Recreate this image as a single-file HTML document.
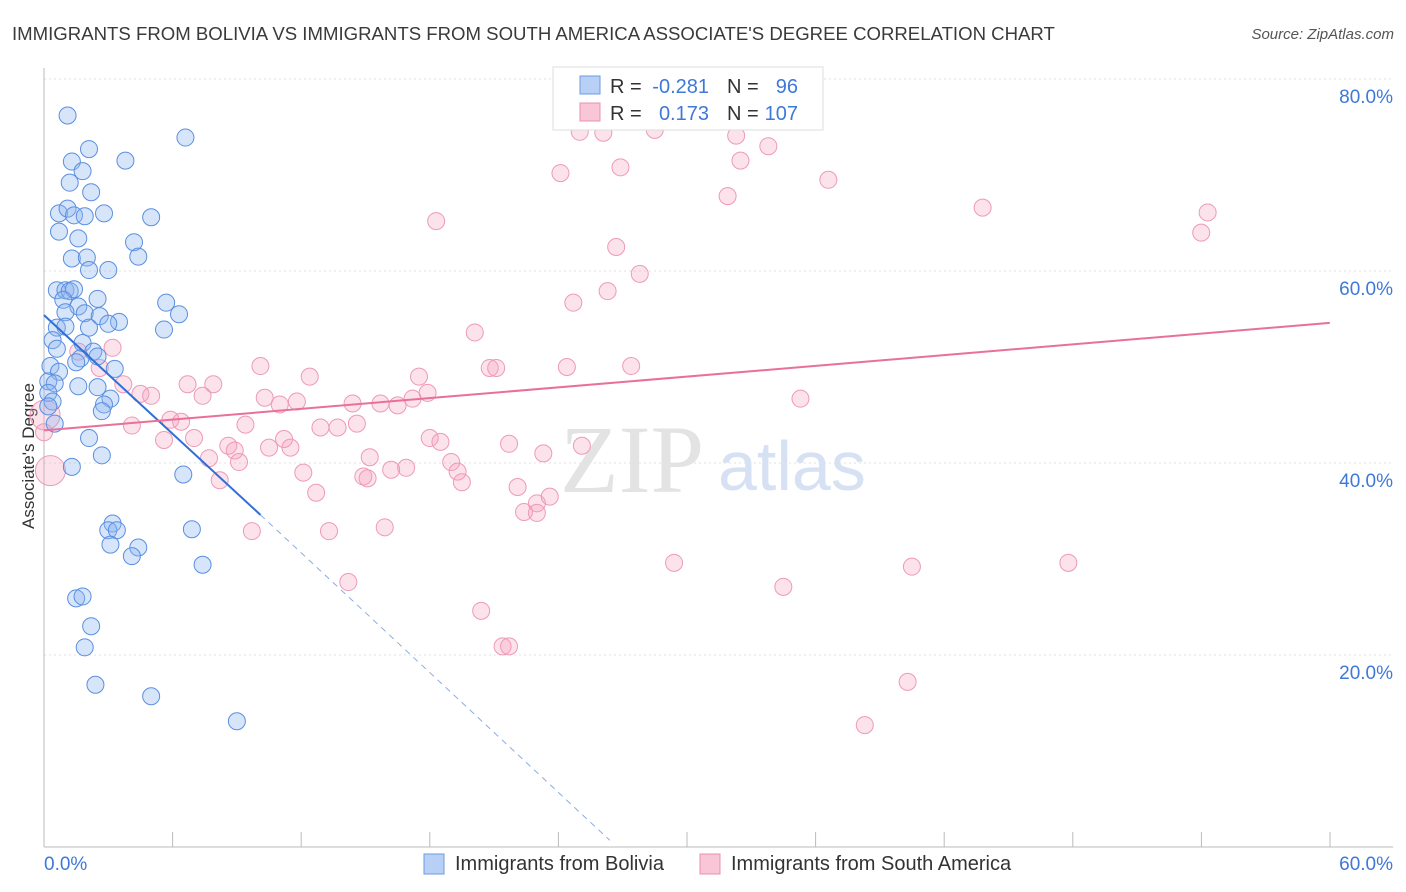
<!DOCTYPE html>
<html><head><meta charset="utf-8"><style>
body{margin:0;background:#fff;font-family:"Liberation Sans",sans-serif;}
#wrap{position:relative;width:1406px;height:892px;overflow:hidden}
</style></head><body>
<div id="wrap">
<svg id="svg" width="1406" height="892" font-family="Liberation Sans, sans-serif">
<text x="12" y="40" font-size="18.6" fill="#3a3a3a">IMMIGRANTS FROM BOLIVIA VS IMMIGRANTS FROM SOUTH AMERICA ASSOCIATE'S DEGREE CORRELATION CHART</text>
<text x="1394" y="39" font-size="15" fill="#555" font-style="italic" text-anchor="end">Source: ZipAtlas.com</text>
<text x="34" y="456" font-size="17" fill="#333" text-anchor="middle" transform="rotate(-90 34 456)">Associate's Degree</text>
<g id="grid"></g>
<text x="560" y="492" font-size="96" fill="#e3e3e3" font-family="Liberation Serif, serif">ZIP</text>
<text x="718" y="490" font-size="70" fill="#d6e2f3">atlas</text>
<g id="pts"></g>
<g id="lines"></g>
<g font-size="20">
<rect x="553" y="67" width="270" height="63" fill="#fff" stroke="#ddd"/>
<rect x="580" y="76" width="20" height="18" fill="#b8d0f5" stroke="#6a9be0"/>
<text x="610" y="93" fill="#333">R =</text>
<text x="709" y="93" fill="#3e78d8" text-anchor="end">-0.281</text>
<text x="727" y="93" fill="#333">N =</text>
<text x="798" y="93" fill="#3e78d8" text-anchor="end">96</text>
<rect x="580" y="103" width="20" height="18" fill="#f8c6d6" stroke="#e890ac"/>
<text x="610" y="120" fill="#333">R =</text>
<text x="709" y="120" fill="#3e78d8" text-anchor="end">0.173</text>
<text x="727" y="120" fill="#333">N =</text>
<text x="798" y="120" fill="#3e78d8" text-anchor="end">107</text>
</g>
<g>
<rect x="424" y="854" width="20" height="20" fill="#b8d0f5" stroke="#6a9be0"/>
<text x="455" y="870" font-size="20" fill="#333">Immigrants from Bolivia</text>
<rect x="700" y="854" width="20" height="20" fill="#f8c6d6" stroke="#e890ac"/>
<text x="731" y="870" font-size="20" fill="#333">Immigrants from South America</text>
</g>
</svg>
</div>
<script>
const yTicks=[20,40,60,80];
const xTickLabels=["0.0%","60.0%"];
const blueX=[1.1,6.6,2.1,3.8,1.3,1.8,1.2,2.2,0.7,1.1,1.4,1.9,2.8,5.0,0.7,1.6,4.2,4.4,1.3,2.0,2.1,3.0,0.6,1.0,1.2,1.4,2.5,5.7,0.9,1.6,1.0,1.9,2.6,6.3,3.5,3.0,0.6,1.0,2.1,5.6,0.4,1.8,0.6,2.3,1.7,2.5,0.3,1.5,3.3,0.7,0.2,0.5,1.6,2.5,0.2,3.1,0.4,2.8,2.7,0.2,0.5,2.1,2.7,1.3,6.5,3.2,3.0,3.4,6.9,4.4,3.1,4.1,7.4,1.5,1.8,2.2,1.9,2.4,5.0,9.0];
const blueY=[76.2,73.9,72.7,71.5,71.4,70.4,69.2,68.2,66.0,66.5,65.8,65.7,66.0,65.6,64.1,63.4,63.0,61.5,61.3,61.4,60.1,60.1,58.0,58.0,57.9,58.1,57.1,56.7,57.0,56.3,55.7,55.6,55.3,55.5,54.7,54.5,54.1,54.2,54.1,53.9,52.8,52.5,51.9,51.6,50.9,51.1,50.1,50.5,49.8,49.5,48.5,48.3,48.0,47.9,47.3,46.7,46.4,46.1,45.4,45.9,44.1,42.6,40.8,39.6,38.8,33.7,33.0,33.0,33.1,31.2,31.5,30.3,29.4,25.9,26.1,23.0,20.8,16.9,15.7,13.1];
const pinkX=[25.0,26.1,28.5,32.3,33.8,32.5,26.9,24.1,36.6,31.9,43.8,54.3,18.3,54.0,26.7,27.8,26.3,24.7,20.1,3.2,1.6,20.8,21.1,24.4,27.4,10.1,2.6,3.7,6.7,7.9,12.4,17.5,17.9,4.5,5.0,7.4,10.3,17.2,11.8,11.0,15.7,16.5,14.4,35.3,5.9,6.4,9.4,4.1,12.9,14.6,13.7,7.0,5.6,11.2,11.5,8.6,8.9,10.5,18.0,18.5,21.7,23.3,25.1,15.2,19.0,16.9,19.3,19.5,7.7,9.1,14.9,15.1,16.2,12.1,8.2,22.1,12.7,23.6,23.0,22.4,23.0,15.9,13.3,9.7,29.4,40.5,47.8,14.2,34.5,20.4,21.4,21.7,40.3,38.3,0.05,0.3,0.0];
const pinkY=[74.5,74.4,74.7,74.1,73.0,71.5,70.8,70.2,69.5,67.8,66.6,66.1,65.2,64.0,62.5,59.7,57.9,56.7,53.6,52.0,51.6,49.9,49.9,50.0,50.1,50.1,49.9,48.2,48.2,48.2,49.0,49.0,47.3,47.2,47.0,47.0,46.8,46.7,46.4,46.1,46.2,46.0,46.2,46.7,44.5,44.3,44.0,43.9,43.7,44.1,43.7,42.6,42.4,42.5,41.6,41.8,41.3,41.6,42.6,42.2,42.0,41.0,41.8,40.6,40.1,39.5,39.1,38.0,40.5,40.1,38.6,38.4,39.3,39.0,38.2,37.5,36.9,36.5,35.8,34.9,34.8,33.3,32.9,32.9,29.6,29.2,29.6,27.6,27.1,24.6,20.9,20.9,17.2,12.7,45.0,39.2,43.2];
const big=[94,95];
const NS="http://www.w3.org/2000/svg";
const x=v=>44+v*21.43, y=v=>847-v*9.6;
function mk(t,a,p){const e=document.createElementNS(NS,t);for(const k in a)e.setAttribute(k,a[k]);p.appendChild(e);return e;}
const grid=document.getElementById('grid');
yTicks.forEach(t=>{
 const l=mk('line',{x1:44,x2:1393,y1:y(t),y2:y(t),stroke:'#e0e0e0','stroke-dasharray':'2,3'},grid);
 
 
 const tx=mk('text',{x:1393,y:y(t)+24,'font-size':19,fill:'#3e78d8','text-anchor':'end'},grid);tx.textContent=t.toFixed(1)+'%';
 
 
});
mk('line',{x1:44,x2:44,y1:68,y2:847,stroke:'#bbb'},grid);
mk('line',{x1:44,x2:1393,y1:847,y2:847,stroke:'#bbb'},grid);
for(let i=1;i<=10;i++){mk('line',{x1:44+i*128.6,x2:44+i*128.6,y1:832,y2:847,stroke:'#bbb'},grid);}
const xl0=mk('text',{x:44,y:870,'font-size':19,fill:'#3e78d8'},grid);xl0.textContent=xTickLabels[0];


const xl1=mk('text',{x:1393,y:870,'font-size':19,fill:'#3e78d8','text-anchor':'end'},grid);xl1.textContent=xTickLabels[1];


const pts=document.getElementById('pts');
pinkX.forEach((v,i)=>{const c=mk('circle',{cx:x(v),cy:y(pinkY[i]),r:big.includes(i)?15:8.5,fill:'rgba(244,160,188,0.3)',stroke:'#ee9ab6','stroke-width':1},pts);
 
 });
blueX.forEach((v,i)=>{const c=mk('circle',{cx:x(v),cy:y(blueY[i]),r:8.5,fill:'rgba(140,180,240,0.35)',stroke:'#5a8fe0','stroke-width':1},pts);
 
 });
const ln=document.getElementById('lines');
const b=mk('line',{x1:x(0),y1:y(55.4),x2:x(10.1),y2:y(34.6),stroke:'#2f6fd6','stroke-width':2},ln);


const bd=mk('line',{x1:x(10.1),y1:y(34.6),x2:x(26.4),y2:y(0.7),stroke:'#8aaee0','stroke-width':1,'stroke-dasharray':'6,5'},ln);


const p=mk('line',{x1:x(0),y1:y(43.4),x2:x(60),y2:y(54.6),stroke:'#e8709a','stroke-width':2},ln);


</script>
</body></html>
